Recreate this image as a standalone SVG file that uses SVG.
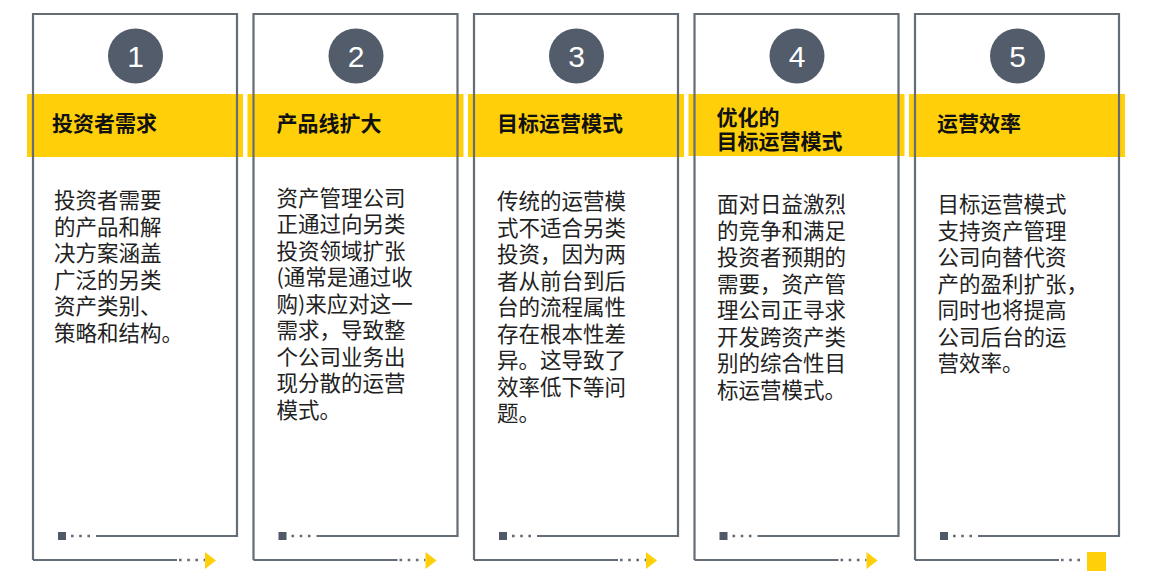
<svg xmlns="http://www.w3.org/2000/svg" width="1156" height="582" viewBox="0 0 1156 582">
<defs>
<style>
.band{fill:#FFD00A}
.frame{fill:none;stroke:#646c76;stroke-width:2.2}
.dots{fill:none;stroke:#646c76;stroke-width:2.4;stroke-dasharray:2.6 5.6}
.sq{fill:#4f5968}
.arrow{fill:#FFD00A}
.circ{fill:#525c6a}
.num{fill:#ffffff;font-family:"Liberation Sans","DejaVu Sans",sans-serif;font-size:30px;text-anchor:middle}
.title{fill:#111111;font-family:"Noto Sans CJK SC","Noto Sans",sans-serif;font-size:21px;font-weight:700}
.body{fill:#222222;font-family:"Noto Sans CJK SC","Noto Sans",sans-serif;font-size:21.5px}
</style>
</defs>
<rect width="1156" height="582" fill="#ffffff"/>

<g id="panel1">
<rect class="band" x="27" y="94" width="216" height="63"/>
<path class="frame" d="M33 560 V14 H237 V536 H96"/>
<path class="frame" d="M33 560 H177"/>
<path class="dots" d="M71 536 H95"/>
<path class="dots" d="M179 560 H205"/>
<rect class="sq" x="58" y="532" width="8" height="8"/>
<polygon class="arrow" points="205,552 216,560.5 205,569"/>
<circle class="circ" cx="135.5" cy="56" r="27.5"/>
<text class="num" x="135.5" y="67">1</text>
<text class="title" x="52" y="131">投资者需求</text>
<text class="body" x="54" y="208"><tspan x="54">投资者需要</tspan><tspan x="54" dy="26.5">的产品和解</tspan><tspan x="54" dy="26.5">决方案涵盖</tspan><tspan x="54" dy="26.5">广泛的另类</tspan><tspan x="54" dy="26.5">资产类别、</tspan><tspan x="54" dy="26.5">策略和结构。</tspan></text>
</g>

<g id="panel2" transform="translate(220.5,0)">
<rect class="band" x="27" y="94" width="216" height="63"/>
<path class="frame" d="M33 560 V14 H237 V536 H96"/>
<path class="frame" d="M33 560 H177"/>
<path class="dots" d="M71 536 H95"/>
<path class="dots" d="M179 560 H205"/>
<rect class="sq" x="58" y="532" width="8" height="8"/>
<polygon class="arrow" points="205,552 216,560.5 205,569"/>
<circle class="circ" cx="135.5" cy="56" r="27.5"/>
<text class="num" x="135.5" y="67">2</text>
<text class="title" x="56" y="131">产品线扩大</text>
<text class="body" x="56" y="205.5"><tspan x="56">资产管理公司</tspan><tspan x="56" dy="26.5">正通过向另类</tspan><tspan x="56" dy="26.5">投资领域扩张</tspan><tspan x="56" dy="26.5">(通常是通过收</tspan><tspan x="56" dy="26.5">购)来应对这一</tspan><tspan x="56" dy="26.5">需求，导致整</tspan><tspan x="56" dy="26.5">个公司业务出</tspan><tspan x="56" dy="26.5">现分散的运营</tspan><tspan x="56" dy="26.5">模式。</tspan></text>
</g>

<g id="panel3" transform="translate(441,0)">
<rect class="band" x="27" y="94" width="216" height="63"/>
<path class="frame" d="M33 560 V14 H237 V536 H96"/>
<path class="frame" d="M33 560 H177"/>
<path class="dots" d="M71 536 H95"/>
<path class="dots" d="M179 560 H205"/>
<rect class="sq" x="58" y="532" width="8" height="8"/>
<polygon class="arrow" points="205,552 216,560.5 205,569"/>
<circle class="circ" cx="135.5" cy="56" r="27.5"/>
<text class="num" x="135.5" y="67">3</text>
<text class="title" x="56" y="131">目标运营模式</text>
<text class="body" x="56" y="209"><tspan x="56">传统的运营模</tspan><tspan x="56" dy="26.5">式不适合另类</tspan><tspan x="56" dy="26.5">投资，因为两</tspan><tspan x="56" dy="26.5">者从前台到后</tspan><tspan x="56" dy="26.5">台的流程属性</tspan><tspan x="56" dy="26.5">存在根本性差</tspan><tspan x="56" dy="26.5">异。这导致了</tspan><tspan x="56" dy="26.5">效率低下等问</tspan><tspan x="56" dy="26.5">题。</tspan></text>
</g>

<g id="panel4" transform="translate(661.5,0)">
<rect class="band" x="27" y="94" width="216" height="62"/>
<path class="frame" d="M33 560 V14 H237 V536 H96"/>
<path class="frame" d="M33 560 H177"/>
<path class="dots" d="M71 536 H95"/>
<path class="dots" d="M179 560 H205"/>
<rect class="sq" x="58" y="532" width="8" height="8"/>
<polygon class="arrow" points="205,552 216,560.5 205,569"/>
<circle class="circ" cx="135.5" cy="56" r="27.5"/>
<text class="num" x="135.5" y="67">4</text>
<text class="title" x="55" y="124.5"><tspan x="55">优化的</tspan><tspan x="55" dy="24">目标运营模式</tspan></text>
<text class="body" x="55.5" y="212"><tspan x="55.5">面对日益激烈</tspan><tspan x="55.5" dy="26.5">的竞争和满足</tspan><tspan x="55.5" dy="26.5">投资者预期的</tspan><tspan x="55.5" dy="26.5">需要，资产管</tspan><tspan x="55.5" dy="26.5">理公司正寻求</tspan><tspan x="55.5" dy="26.5">开发跨资产类</tspan><tspan x="55.5" dy="26.5">别的综合性目</tspan><tspan x="55.5" dy="26.5">标运营模式。</tspan></text>
</g>

<g id="panel5" transform="translate(882,0)">
<rect class="band" x="27" y="94" width="216" height="63"/>
<path class="frame" d="M33 560 V14 H237 V536 H96"/>
<path class="frame" d="M33 560 H177"/>
<path class="dots" d="M71 536 H95"/>
<path class="dots" d="M179 560 H203"/>
<rect class="sq" x="58" y="532" width="8" height="8"/>
<rect class="arrow" x="205" y="552" width="19" height="19"/>
<circle class="circ" cx="135.5" cy="56" r="27.5"/>
<text class="num" x="135.5" y="67">5</text>
<text class="title" x="55" y="131">运营效率</text>
<text class="body" x="55.5" y="212"><tspan x="55.5">目标运营模式</tspan><tspan x="55.5" dy="26.5">支持资产管理</tspan><tspan x="55.5" dy="26.5">公司向替代资</tspan><tspan x="55.5" dy="26.5">产的盈利扩张，</tspan><tspan x="55.5" dy="26.5">同时也将提高</tspan><tspan x="55.5" dy="26.5">公司后台的运</tspan><tspan x="55.5" dy="26.5">营效率。</tspan></text>
</g>

<g id="connectors"></g>
</svg>
